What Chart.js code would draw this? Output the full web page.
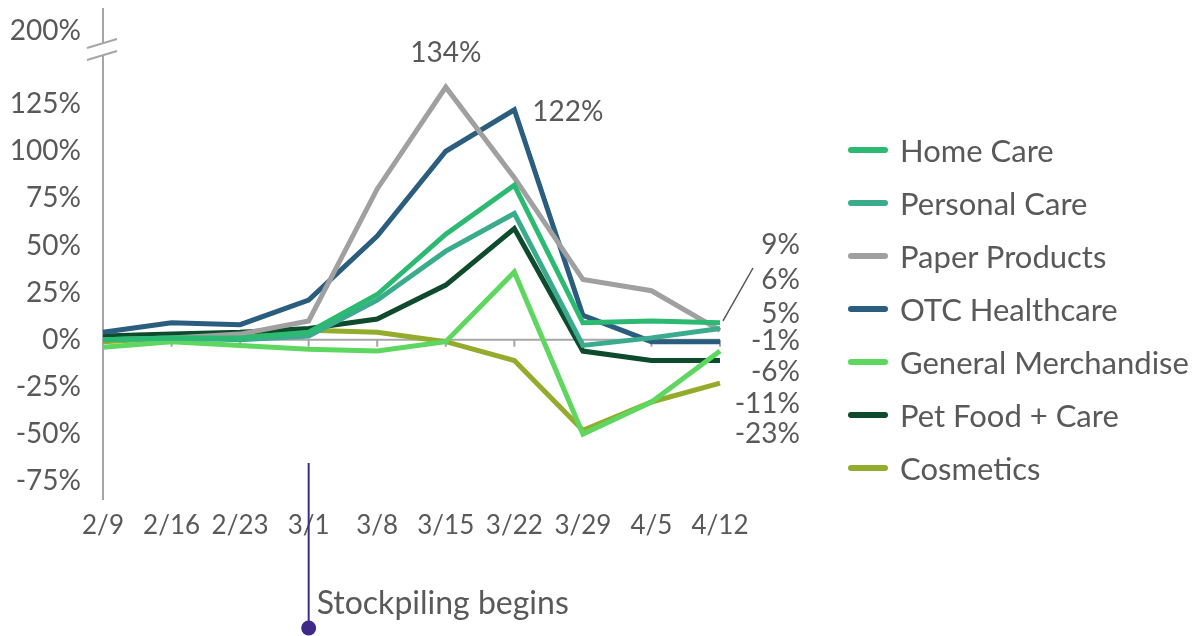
<!DOCTYPE html>
<html>
<head>
<meta charset="utf-8">
<script src="https://cdn.jsdelivr.net/npm/chart.js@4/dist/chart.umd.min.js"></script>
<style>
  html, body { margin: 0; padding: 0; background: #fff; }
  #wrap { position: relative; width: 1202px; height: 636px; }
  #legend { position: absolute; left: 848px; top: 123px; font-family: Lato, sans-serif; font-size: 31px; color: #595959; }
  #legend .row { height: 53px; display: flex; align-items: center; }
  #legend .sw { width: 40px; height: 6px; margin-right: 12px; border-radius: 3px; }
</style>
</head>
<body>
<div id="wrap">
  <canvas id="chart" width="1202" height="636"></canvas>
  <div id="legend"></div>
</div>
<script>
const weeks = ['2/9', '2/16', '2/23', '3/1', '3/8', '3/15', '3/22', '3/29', '4/5', '4/12'];

const homeCare     = [0, 1, 1, 4, 24, 56, 82, 9, 10, 9];
const personalCare = [0, 1, 0, 2, 21, 47, 67, -3, 1, 6];
const paper        = [0, 1, 3, 10, 80, 134, 86, 32, 26, 5];
const otc          = [4, 9, 8, 21, 55, 100, 122, 13, -1, -1];
const generalMerch = [-4, -1, -3, -5, -6, -1, 36, -50, -33, -6];
const petFood      = [2, 3, 4, 6, 11, 29, 59, -6, -11, -11];
const cosmetics    = [-1, 1, 3, 5, 4, -1, -11, -48, -33, -23];

const seriesNames  = ['Home Care', 'Personal Care', 'Paper Products', 'OTC Healthcare', 'General Merchandise', 'Pet Food + Care', 'Cosmetics'];
const seriesData   = [homeCare, personalCare, paper, otc, generalMerch, petFood, cosmetics];
const seriesColors = ['#2cba72', '#3aab8c', '#a0a0a0', '#2a5d7e', '#5dd75f', '#0e4a2c', '#93ac2c'];

const yTicks = [-75, -50, -25, 0, 25, 50, 75, 100, 125];
const breakTick = 164;      // where the "200%" label sits above the break
const endLabels = ['9%', '6%', '5%', '-1%', '-6%', '-11%', '-23%'];
const endLabelY = [245, 280, 314, 341, 372, 404, 434];

const textColor = '#595959';
const axisColor = '#a6a6a6';
const font = 'Lato, sans-serif';

const overlay = {
  id: 'overlay',
  beforeDatasetsDraw(chart) {
    const { ctx, scales: { x, y } } = chart;
    const y0 = y.getPixelForValue(0);
    ctx.save();
    ctx.strokeStyle = axisColor;
    ctx.lineWidth = 2;
    ctx.beginPath();
    ctx.moveTo(x.getPixelForValue(0), y0);
    ctx.lineTo(x.getPixelForValue(weeks.length - 1), y0);
    for (let i = 1; i < weeks.length; i++) {
      const px = x.getPixelForValue(i);
      ctx.moveTo(px, y0);
      ctx.lineTo(px, y0 + 7);
    }
    ctx.stroke();
    // y axis with break
    const ax = x.getPixelForValue(0);
    ctx.beginPath();
    ctx.moveTo(ax, chart.chartArea.top);
    ctx.lineTo(ax, 44);
    ctx.moveTo(ax, 56);
    ctx.lineTo(ax, chart.chartArea.bottom);
    ctx.moveTo(ax - 16, 48); ctx.lineTo(ax + 14, 39);
    ctx.moveTo(ax - 16, 60); ctx.lineTo(ax + 14, 51);
    ctx.stroke();
    ctx.restore();
  },
  afterDatasetsDraw(chart) {
    const { ctx, scales: { x, y } } = chart;
    ctx.save();
    ctx.fillStyle = textColor;
    ctx.font = '28px ' + font;
    ctx.textBaseline = 'middle';
    // peak labels
    ctx.textAlign = 'center';
    ctx.fillText('134%', x.getPixelForValue(5), y.getPixelForValue(134) - 34);
    ctx.textAlign = 'left';
    ctx.fillText('122%', x.getPixelForValue(6) + 18, y.getPixelForValue(122) + 2);
    // end labels
    ctx.textAlign = 'right';
    endLabels.forEach((t, i) => ctx.fillText(t, 800, endLabelY[i]));
    // leader for 9%
    ctx.strokeStyle = '#555';
    ctx.lineWidth = 1.5;
    ctx.beginPath();
    ctx.moveTo(x.getPixelForValue(9) + 3, y.getPixelForValue(homeCare[9]) - 2);
    ctx.lineTo(753, 268);
    ctx.stroke();
    // stockpiling annotation
    const sx = x.getPixelForValue(3);
    ctx.strokeStyle = '#3f2a87';
    ctx.fillStyle = '#3f2a87';
    ctx.lineWidth = 2;
    ctx.beginPath();
    ctx.moveTo(sx, 463);
    ctx.lineTo(sx, 626);
    ctx.stroke();
    ctx.beginPath();
    ctx.arc(sx, 628, 7.5, 0, Math.PI * 2);
    ctx.fill();
    ctx.fillStyle = textColor;
    ctx.textAlign = 'left';
    ctx.font = '32px ' + font;
    ctx.fillText('Stockpiling begins', sx + 8, 604);
    ctx.restore();
  }
};

new Chart(document.getElementById('chart'), {
  type: 'line',
  data: {
    labels: weeks,
    datasets: seriesNames.map((name, i) => ({
      label: name,
      data: seriesData[i],
      borderColor: seriesColors[i],
      backgroundColor: seriesColors[i],
      borderWidth: 5,
      pointRadius: 0,
      tension: 0
    }))
  },
  options: {
    responsive: false,
    animation: false,
    layout: { padding: { top: 8, right: 482, left: 0, bottom: 0 } },
    plugins: { legend: { display: false }, tooltip: { enabled: false } },
    scales: {
      x: {
        offset: false,
        grid: { display: false, drawTicks: false },
        border: { display: false },
        ticks: { color: textColor, font: { family: font, size: 26 }, padding: 10, autoSkip: false, maxRotation: 0 },
        afterFit(s) { s.height = 136; s.paddingLeft = 0; s.paddingRight = 0; }
      },
      y: {
        min: -85,
        max: 176,
        grid: { display: false, drawTicks: false },
        border: { display: false },
        afterBuildTicks(s) { s.ticks = yTicks.concat([breakTick]).map(v => ({ value: v })); },
        afterFit(s) { s.width = 103; s.paddingTop = 0; s.paddingBottom = 0; },
        ticks: {
          color: textColor,
          font: { family: font, size: 28 },
          padding: 22,
          callback: v => v === breakTick ? '200%' : v + '%'
        }
      }
    }
  },
  plugins: [overlay]
});

const legend = document.getElementById('legend');
seriesNames.forEach((name, i) => {
  const row = document.createElement('div');
  row.className = 'row';
  row.innerHTML = '<div class="sw" style="background:' + seriesColors[i] + '"></div><span>' + name + '</span>';
  legend.appendChild(row);
});
</script>
</body>
</html>
